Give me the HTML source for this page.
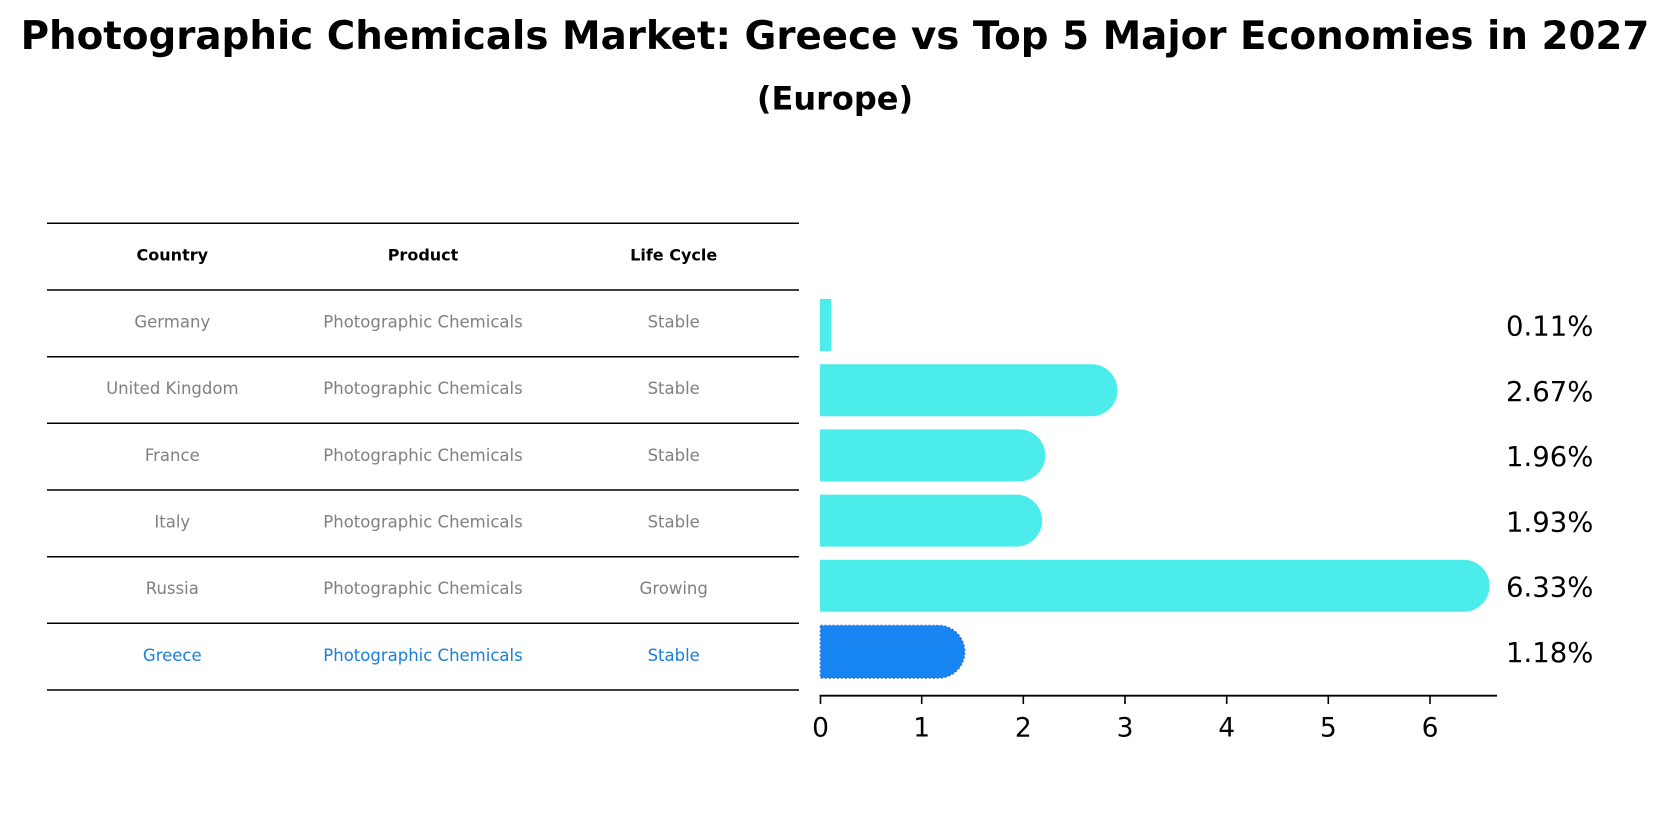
<!DOCTYPE html>
<html>
<head>
<meta charset="utf-8">
<style>
  html, body { margin: 0; padding: 0; background: #ffffff; }
  svg { display: block; }
  text { font-family: "DejaVu Sans", "Liberation Sans", sans-serif; }
</style>
</head>
<body>
<svg width="1670" height="823" viewBox="0 0 1670 823" xmlns="http://www.w3.org/2000/svg">
  <rect width="1670" height="823" fill="#ffffff"/>

  <!-- Titles -->
  <text x="835" y="49" text-anchor="middle" font-size="38.8" font-weight="bold" fill="#000">Photographic Chemicals Market: Greece vs Top 5 Major Economies in 2027</text>
  <text x="835" y="109.5" text-anchor="middle" font-size="32" font-weight="bold" fill="#000">(Europe)</text>

  <!-- Table lines -->
  <g stroke="#000" stroke-width="1.5">
    <line x1="47" y1="223.3" x2="799" y2="223.3"/>
    <line x1="47" y1="290" x2="799" y2="290"/>
    <line x1="47" y1="356.7" x2="799" y2="356.7"/>
    <line x1="47" y1="423.3" x2="799" y2="423.3"/>
    <line x1="47" y1="490" x2="799" y2="490"/>
    <line x1="47" y1="556.7" x2="799" y2="556.7"/>
    <line x1="47" y1="623.3" x2="799" y2="623.3"/>
    <line x1="47" y1="690" x2="799" y2="690"/>
  </g>

  <!-- Table header -->
  <g font-size="16" font-weight="bold" fill="#000" text-anchor="middle">
    <text x="172.3" y="260.5">Country</text>
    <text x="423" y="260.5">Product</text>
    <text x="673.7" y="260.5">Life Cycle</text>
  </g>

  <!-- Table rows -->
  <g font-size="16.5" fill="#808080" text-anchor="middle">
    <text x="172.3" y="327.5">Germany</text>
    <text x="423" y="327.5">Photographic Chemicals</text>
    <text x="673.7" y="327.5">Stable</text>

    <text x="172.3" y="394.2">United Kingdom</text>
    <text x="423" y="394.2">Photographic Chemicals</text>
    <text x="673.7" y="394.2">Stable</text>

    <text x="172.3" y="460.8">France</text>
    <text x="423" y="460.8">Photographic Chemicals</text>
    <text x="673.7" y="460.8">Stable</text>

    <text x="172.3" y="527.5">Italy</text>
    <text x="423" y="527.5">Photographic Chemicals</text>
    <text x="673.7" y="527.5">Stable</text>

    <text x="172.3" y="594.2">Russia</text>
    <text x="423" y="594.2">Photographic Chemicals</text>
    <text x="673.7" y="594.2">Growing</text>
  </g>
  <g font-size="16.5" fill="#1a7fd8" text-anchor="middle">
    <text x="172.3" y="660.8">Greece</text>
    <text x="423" y="660.8">Photographic Chemicals</text>
    <text x="673.7" y="660.8">Stable</text>
  </g>

  <!-- Bars -->
  <g fill="#4cecea">
    <rect x="820" y="299" width="11.2" height="52"/>
    <path d="M820,364.2 H1091.5 A26,26 0 0 1 1091.5,416.2 H820 Z"/>
    <path d="M820,429.4 H1019.3 A26,26 0 0 1 1019.3,481.4 H820 Z"/>
    <path d="M820,494.6 H1016.2 A26,26 0 0 1 1016.2,546.6 H820 Z"/>
    <path d="M820,559.8 H1463.6 A26,26 0 0 1 1463.6,611.8 H820 Z"/>
  </g>
  <path d="M820.5,625.5 H940 A26.3,26.3 0 0 1 940,678 H820.5 Z" fill="#1785f2" stroke="#2f6fd6" stroke-width="1.5" stroke-dasharray="2 2"/>

  <!-- Value labels -->
  <g font-size="27.5" fill="#000">
    <text x="1506" y="335.5">0.11%</text>
    <text x="1506" y="401">2.67%</text>
    <text x="1506" y="466.2">1.96%</text>
    <text x="1506" y="531.4">1.93%</text>
    <text x="1506" y="596.6">6.33%</text>
    <text x="1506" y="661.8">1.18%</text>
  </g>

  <!-- X axis -->
  <line x1="819.5" y1="695.7" x2="1497" y2="695.7" stroke="#000" stroke-width="1.8"/>
  <g stroke="#000" stroke-width="1.6">
    <line x1="820.5" y1="695.7" x2="820.5" y2="704"/>
    <line x1="921.7" y1="695.7" x2="921.7" y2="704"/>
    <line x1="1023.3" y1="695.7" x2="1023.3" y2="704"/>
    <line x1="1125" y1="695.7" x2="1125" y2="704"/>
    <line x1="1226.7" y1="695.7" x2="1226.7" y2="704"/>
    <line x1="1328.3" y1="695.7" x2="1328.3" y2="704"/>
    <line x1="1430" y1="695.7" x2="1430" y2="704"/>
  </g>
  <g font-size="26.5" fill="#000" text-anchor="middle">
    <text x="820.5" y="736.5">0</text>
    <text x="921.7" y="736.5">1</text>
    <text x="1023.3" y="736.5">2</text>
    <text x="1125" y="736.5">3</text>
    <text x="1226.7" y="736.5">4</text>
    <text x="1328.3" y="736.5">5</text>
    <text x="1430" y="736.5">6</text>
  </g>
</svg>
</body>
</html>
